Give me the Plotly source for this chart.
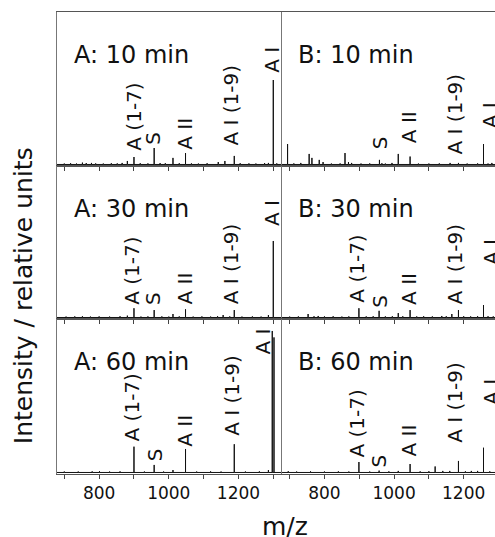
import plotly.graph_objects as go
from plotly.subplots import make_subplots

FONT = "DejaVu Sans"

# ---- data: stick spectra (m/z, relative intensity) ----
A10_MZ = [700, 718, 735, 752, 763, 778, 790, 812, 835, 852, 866, 881, 900, 918, 940, 958, 975, 990,
          1012, 1030, 1048, 1065, 1085, 1110, 1142, 1161, 1188, 1205, 1230, 1250, 1275, 1286, 1300, 1310]
A10_INT = [0.6, 0.8, 0.6, 1.2, 0.9, 1.0, 0.7, 0.6, 0.8, 0.7, 1.0, 2.3, 4.9, 0.8, 0.7, 10.8, 0.9, 0.8,
           4.3, 0.8, 7.5, 0.7, 0.6, 0.8, 1.6, 2.3, 5.6, 0.8, 0.7, 0.6, 0.9, 1.0, 55.4, 0.7]

B10_MZ = [694, 712, 732, 756, 764, 785, 796, 820, 845, 859, 869, 878, 905, 930, 958, 965, 975, 994,
          1012, 1046, 1070, 1100, 1130, 1161, 1185, 1210, 1240, 1257, 1270, 1281]
B10_INT = [13.4, 0.7, 1.0, 6.9, 4.3, 3.0, 1.6, 0.6, 0.7, 7.5, 1.6, 1.0, 0.6, 0.7, 3.0, 0.8, 0.6, 1.0,
           6.9, 5.2, 0.6, 0.6, 0.7, 1.0, 1.0, 0.6, 0.7, 13.4, 0.6, 1.0]

A30_MZ = [705, 730, 752, 775, 800, 830, 860, 881, 900, 920, 940, 958, 980, 1000, 1012, 1030, 1048,
          1070, 1095, 1120, 1140, 1156, 1175, 1188, 1210, 1240, 1265, 1286, 1300]
A30_INT = [0.6, 0.7, 0.8, 0.6, 0.7, 0.6, 0.8, 1.2, 6.1, 0.6, 0.7, 4.9, 0.7, 0.6, 2.3, 0.7, 5.4,
           0.6, 0.7, 0.6, 0.8, 1.6, 0.7, 4.9, 0.6, 0.7, 0.6, 1.6, 50.5]

B30_MZ = [700, 725, 753, 770, 782, 800, 825, 850, 870, 899, 920, 940, 957, 975, 995, 1012, 1025, 1046,
          1065, 1085, 1110, 1137, 1150, 1166, 1185, 1200, 1220, 1240, 1257, 1270, 1285]
B30_INT = [0.6, 0.7, 2.3, 0.8, 1.0, 0.7, 0.8, 0.6, 0.7, 6.1, 0.7, 0.8, 4.4, 0.7, 0.8, 2.9, 0.8, 4.9,
           0.7, 0.8, 0.7, 1.0, 0.8, 2.3, 4.9, 0.8, 0.7, 0.8, 8.2, 0.8, 0.7]

A60_MZ = [700, 740, 780, 801, 830, 860, 900, 930, 958, 985, 1012, 1048, 1080, 1120, 1150, 1188,
          1220, 1260, 1286, 1297, 1302]
A60_INT = [0.6, 0.6, 0.7, 0.8, 0.6, 0.7, 16.8, 0.6, 4.9, 0.6, 1.6, 15.3, 0.6, 0.7, 0.6, 18.4,
           0.6, 0.7, 1.6, 92.2, 88.0]

B60_MZ = [696, 720, 760, 800, 840, 870, 899, 930, 957, 985, 1012, 1046, 1075, 1100, 1118, 1140,
          1160, 1185, 1205, 1222, 1240, 1257, 1275]
B60_INT = [0.8, 0.6, 0.7, 0.6, 0.7, 0.6, 6.8, 0.6, 1.2, 0.7, 1.0, 5.5, 0.7, 0.8, 3.9, 1.0,
           1.0, 7.5, 0.7, 1.0, 1.0, 16.1, 0.7]

PANEL_TITLES = ["A: 10 min", "B: 10 min", "A: 30 min", "B: 30 min", "A: 60 min", "B: 60 min"]
X_TICK_VALS = [700, 800, 900, 1000, 1100, 1200, 1300]
X_TICK_TEXT = ["", "800", "", "1000", "", "1200", ""]

# peak label text with (m/z, height) placement
A10_LABELS = [("A (1-7)", 899, 7.5), ("S", 955.3, 11.5), ("A II", 1046, 8.2),
              ("A I (1-9)", 1176, 10.8), ("A I", 1295.6, 58.7)]
B10_LABELS = [("S", 960, 8.4), ("A II", 1043.4, 12.8), ("A I (1-9)", 1175.7, 5.1), ("A I", 1276.4, 22.6)]
A30_LABELS = [("A (1-7)", 894.7, 7.1), ("S", 956.7, 7.1), ("A II", 1046, 7.1),
              ("A I (1-9)", 1178.8, 7.1), ("A I", 1295.6, 58.9)]
B30_LABELS = [("A (1-7)", 892.3, 8.2), ("S", 957, 4.9), ("A II", 1043.4, 7.1),
              ("A I (1-9)", 1175.7, 7.1), ("A I", 1276.4, 33.5)]
A60_LABELS = [("A (1-7)", 894.7, 19.0), ("S", 962.5, 6.2), ("A II", 1047.6, 15.7),
              ("A I (1-9)", 1181.7, 22.3), ("A I", 1269.6, 75.4)]
B60_LABELS = [("A (1-7)", 892.3, 8.1), ("S", 954, 1.6), ("A II", 1043.4, 9.2),
              ("A I (1-9)", 1172.8, 17.9), ("A I", 1276.4, 42.9)]

X_RANGE_LEFT = [679, 1325]
X_RANGE_RIGHT = [678, 1290]
Y_RANGE = [-1, 100]

panels = [
    (1, 1, A10_MZ, A10_INT, A10_LABELS),
    (1, 2, B10_MZ, B10_INT, B10_LABELS),
    (2, 1, A30_MZ, A30_INT, A30_LABELS),
    (2, 2, B30_MZ, B30_INT, B30_LABELS),
    (3, 1, A60_MZ, A60_INT, A60_LABELS),
    (3, 2, B60_MZ, B60_INT, B60_LABELS),
]

fig = make_subplots(rows=3, cols=2, column_widths=[225, 213], row_heights=[154, 153, 155],
                    horizontal_spacing=0, vertical_spacing=0)


def sticks(mz, inten, lo, hi):
    xs, ys = [lo], [0]
    for m, h in zip(mz, inten):
        xs += [m, m, m]
        ys += [0, h, 0]
    xs.append(hi)
    ys.append(0)
    return xs, ys


annotations = []
for i, (r, c, mz, inten, labels) in enumerate(panels):
    rng = X_RANGE_LEFT if c == 1 else X_RANGE_RIGHT
    xs, ys = sticks(mz, inten, rng[0], rng[1])
    fig.add_trace(go.Scatter(x=xs, y=ys, mode="lines", line=dict(color="#111111", width=1),
                             hoverinfo="skip", showlegend=False), row=r, col=c)
    n = i + 1
    xref = "x" if n == 1 else f"x{n}"
    yref = "y" if n == 1 else f"y{n}"
    for txt, xm, yb in labels:
        annotations.append(dict(text=txt, x=xm, y=yb, xref=xref, yref=yref, textangle=-90,
                                xanchor="center", yanchor="bottom", showarrow=False,
                                font=dict(family=FONT, size=20, color="#111111")))
    annotations.append(dict(text=PANEL_TITLES[i], x=0.067 if c == 1 else 0.066, y=0.722,
                            xref=f"{xref} domain", yref=f"{yref} domain",
                            xanchor="left", yanchor="middle", showarrow=False,
                            font=dict(family=FONT, size=24, color="#111111")))
    fig.update_xaxes(range=rng, tickvals=X_TICK_VALS, ticktext=X_TICK_TEXT,
                     showticklabels=(r == 3), ticks="outside", ticklen=4, tickwidth=1,
                     tickcolor="#444444", showline=True, linecolor="#555555", linewidth=1,
                     mirror=True, showgrid=False, zeroline=False,
                     tickfont=dict(family=FONT, size=17, color="#111111"), row=r, col=c)
    fig.update_yaxes(range=Y_RANGE, showticklabels=False, ticks="", showline=True,
                     linecolor="#777777", linewidth=1, showgrid=False, zeroline=False,
                     row=r, col=c)

annotations.append(dict(text="Intensity / relative units", x=-0.0749, y=0.3853, xref="paper",
                        yref="paper", textangle=-90, xanchor="center", yanchor="middle",
                        showarrow=False, font=dict(family=FONT, size=25, color="#111111")))
annotations.append(dict(text="m/z", x=0.5205, y=-0.1136, xref="paper", yref="paper",
                        xanchor="center", yanchor="middle", showarrow=False,
                        font=dict(family=FONT, size=25, color="#111111")))

fig.update_layout(width=495, height=537, margin=dict(l=57, r=0, t=12, b=63),
                  plot_bgcolor="white", paper_bgcolor="white", showlegend=False,
                  annotations=annotations, font=dict(family=FONT))

fig.write_html("out.html", config={"displayModeBar": False, "staticPlot": True},
               post_script="document.body.style.margin='0px';document.body.style.overflow='hidden';")
